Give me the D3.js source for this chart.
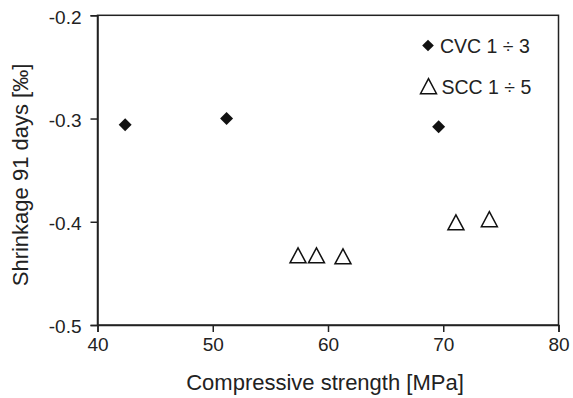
<!DOCTYPE html>
<html><head><meta charset="utf-8">
<script src="https://cdn.jsdelivr.net/npm/d3@7"></script>
<style>body{margin:0;background:#fff}svg{display:block}text{font-family:"Liberation Sans",Arial,sans-serif;fill:#222}</style>
</head><body>
<script>
const cvcStrength = [42.4, 51.2, 69.6];
const cvcShrink = [-0.306, -0.300, -0.308];
const sccStrength = [57.4, 59.0, 61.3, 71.1, 74.0];
const sccShrink = [-0.433, -0.433, -0.434, -0.401, -0.398];
const xTicks = [40, 50, 60, 70, 80];
const yTicks = [-0.2, -0.3, -0.4, -0.5];
const yTickLabels = ["-0.2", "-0.3", "-0.4", "-0.5"];
const legendLabels = ["CVC 1 ÷ 3", "SCC 1 ÷ 5"];

const W = 573, H = 398;
const svg = d3.select("body").append("svg").attr("width", W).attr("height", H);
const x = d3.scaleLinear().domain([40, 80]).range([97.5, 558.5]);
const y = d3.scaleLinear().domain([-0.5, -0.2]).range([325, 15.3]);

// frame
svg.append("rect").attr("x", x(40)).attr("y", y(-0.2)).attr("width", x(80) - x(40)).attr("height", y(-0.5) - y(-0.2))
  .attr("fill", "none").attr("stroke", "#222").attr("stroke-width", 1.5);

const xAxis = svg.append("g").attr("transform", `translate(0,${y(-0.5)})`)
  .call(d3.axisBottom(x).tickValues(xTicks).tickFormat(d3.format("d")).tickSize(7).tickPadding(6));
const yAxis = svg.append("g").attr("transform", `translate(${x(40)},0)`)
  .call(d3.axisLeft(y).tickValues(yTicks).tickFormat((d, i) => yTickLabels[i]).tickSize(7).tickPadding(9));
[xAxis, yAxis].forEach(a => {
  a.select(".domain").attr("stroke", "#222").attr("stroke-width", 1.5);
  a.selectAll(".tick line").attr("stroke", "#222").attr("stroke-width", 1.5);
  a.selectAll(".tick text").attr("font-size", 19).attr("fill", "#222").style("font-family", '"Liberation Sans",Arial,sans-serif');
});
yAxis.selectAll(".tick text").attr("dy", "0.42em");

// titles
svg.append("text").attr("x", 325).attr("y", 390).attr("text-anchor", "middle").attr("font-size", 22)
  .text("Compressive strength [MPa]");
svg.append("text").attr("transform", "translate(28,175) rotate(-90)").attr("text-anchor", "middle").attr("font-size", 22)
  .text("Shrinkage 91 days [‰]");

const diamond = d3.symbol().type(d3.symbolSquare).size(84);
const diamondLg = d3.symbol().type(d3.symbolSquare).size(68);
const tri = "M0,-8 L8,7 L-8,7 Z";

svg.append("g").selectAll("path").data(cvcStrength).join("path")
  .attr("d", diamond)
  .attr("transform", (d, i) => `translate(${x(d)},${y(cvcShrink[i])}) rotate(45)`)
  .attr("fill", "#111");

svg.append("g").selectAll("path").data(sccStrength).join("path")
  .attr("d", tri)
  .attr("transform", (d, i) => `translate(${x(d)},${y(sccShrink[i])})`)
  .attr("fill", "none").attr("stroke", "#111").attr("stroke-width", 1.5);

// legend
const lg = svg.append("g");
lg.append("path").attr("d", diamondLg).attr("transform", "translate(428,45.5) rotate(45)").attr("fill", "#111");
lg.append("text").attr("x", 440).attr("y", 52.5).attr("font-size", 19.5).text(legendLabels[0]);
lg.append("path").attr("d", tri).attr("transform", "translate(428.5,86.7)").attr("fill", "none").attr("stroke", "#111").attr("stroke-width", 1.5);
lg.append("text").attr("x", 441.5).attr("y", 94).attr("font-size", 19.5).text(legendLabels[1]);
</script>
</body></html>
